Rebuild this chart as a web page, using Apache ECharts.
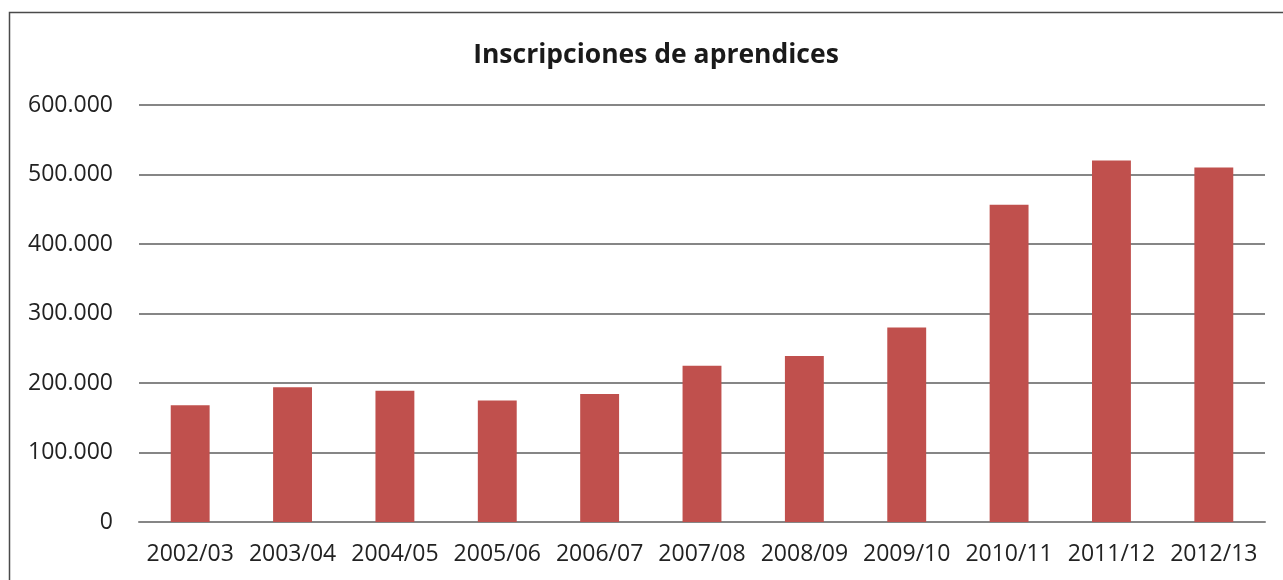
<!DOCTYPE html>
<html>
<head>
<meta charset="utf-8">
<script src="https://cdn.jsdelivr.net/npm/echarts@6/dist/echarts.min.js"></script>
<style>
    html, body { margin: 0; padding: 0; background: #fff; }
    #chart { width: 1283px; height: 580px; }
</style>
</head>
<body>
<div id="chart"></div>
<script>
// datos del gráfico
const cursos = ['2002/03', '2003/04', '2004/05', '2005/06', '2006/07', '2007/08',
    '2008/09', '2009/10', '2010/11', '2011/12', '2012/13'];
const inscripciones = [167900, 194000, 189000, 175000, 184000, 225000,
    239000, 280000, 456500, 520000, 510000];
const titulo = 'Inscripciones de aprendices';

// separador de miles con punto
function miles(v) {
    return String(v).replace(/\B(?=(\d{3})+(?!\d))/g, '.');
}

let chart = echarts.init(document.getElementById('chart'));

let option = {
    animation: false,
    textStyle: { fontFamily: 'Open Sans' },
    title: {
        text: titulo,
        left: 651,
        textAlign: 'center',
        top: 37,
        textStyle: { fontSize: 26.5, fontWeight: 'bold', color: '#1a1a1a', fontFamily: 'Open Sans' }
    },
    graphic: [
        {
            type: 'rect',
            shape: { x: 9.5, y: 12.5, width: 1290, height: 600 },
            style: { fill: 'none', stroke: '#4a4a4a', lineWidth: 1.5 },
            silent: true
        }
    ],
    grid: {
        left: 139,
        right: 18,
        top: 105,
        bottom: 58
    },
    xAxis: {
        type: 'category',
        data: cursos,
        axisLine: { lineStyle: { color: '#868686', width: 2 } },
        axisTick: { show: false },
        axisLabel: { color: '#222', fontSize: 23, margin: 21, interval: 0 }
    },
    yAxis: {
        type: 'value',
        min: 0,
        max: 600000,
        interval: 100000,
        axisLine: { show: false },
        axisTick: { show: false },
        splitLine: { lineStyle: { color: '#868686', width: 2 } },
        axisLabel: { color: '#222', fontSize: 23, margin: 26, formatter: miles }
    },
    series: [
        {
            type: 'bar',
            data: inscripciones,
            barWidth: '38%',
            itemStyle: { color: '#C0504D' }
        }
    ]
};

chart.setOption(option);
</script>
</body>
</html>
